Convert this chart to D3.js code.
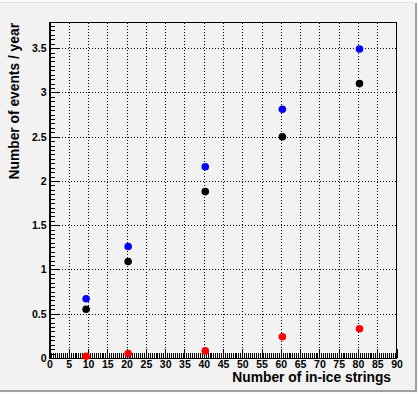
<!DOCTYPE html>
<html>
<head>
<meta charset="utf-8">
<script src="https://cdn.jsdelivr.net/npm/d3@7"></script>
<style>
  body { margin: 0; background: #ffffff; }
  svg { display: block; }
  .axis text { font-family: "Liberation Sans", Arial, sans-serif; font-weight: bold; font-size: 10.5px; fill: #000; }
  .axis path, .axis line { stroke: #000; shape-rendering: crispEdges; }
</style>
</head>
<body>
<script>
// number of in-ice strings
let strings = [9.5, 20.4, 40.4, 60.4, 80.4];
// events per year, three series
let blueVals = [0.67, 1.26, 2.16, 2.81, 3.49];
let blackVals = [0.55, 1.09, 1.88, 2.50, 3.10];
let redVals = [0.02, 0.05, 0.08, 0.24, 0.33];

let xTicks = d3.range(0, 91, 5);
let yTicks = [0, 0.5, 1, 1.5, 2, 2.5, 3, 3.5];

let width = 418;
let height = 394;

let svg = d3.select("body")
    .append("svg")
    .attr("width", width)
    .attr("height", height);

// canvas background + bevel
svg.append("rect").attr("width", width).attr("height", height).attr("fill", "#fbfbfb");
svg.append("rect").attr("x", 0).attr("y", 3).attr("width", 415).attr("height", 387).attr("fill", "#f2f2f2");
svg.append("line").attr("x1", 0).attr("x2", 415).attr("y1", 2.5).attr("y2", 2.5).attr("stroke", "#e4e4e4");
svg.append("rect").attr("x", 415).attr("y", 3).attr("width", 2).attr("height", 389).attr("fill", "#a0a0a0");
svg.append("rect").attr("x", 0).attr("y", 390).attr("width", 417).attr("height", 2).attr("fill", "#a0a0a0");

let padL = 49.5, padR = 396.5, padT = 22.5, padB = 358;

let xScale = d3.scaleLinear().domain([0, 90]).range([padL, padR]);
let yScale = d3.scaleLinear().domain([0, 3.79]).range([padB, padT]);

/* grid */
let grid = svg.append("g")
    .attr("stroke", "#000")
    .attr("stroke-dasharray", "1,2")
    .attr("shape-rendering", "crispEdges");

grid.selectAll(".gx")
    .data(xTicks.filter(d => d > 0 && d < 90))
    .enter().append("line")
    .attr("x1", d => Math.round(xScale(d)) + 0.5)
    .attr("x2", d => Math.round(xScale(d)) + 0.5)
    .attr("y1", padT)
    .attr("y2", padB);

grid.selectAll(".gy")
    .data(yTicks.filter(d => d > 0))
    .enter().append("line")
    .attr("x1", padL)
    .attr("x2", padR)
    .attr("y1", d => Math.round(yScale(d)) + 0.5)
    .attr("y2", d => Math.round(yScale(d)) + 0.5);

/* x axis, ticks inside */
let xMinor = d3.axisBottom(xScale)
    .tickValues(d3.range(0, 180.5, 1).map(d => d / 2))
    .tickSizeInner(-5).tickSizeOuter(0)
    .tickFormat("");
svg.append("g").attr("class", "axis")
    .attr("transform", "translate(0," + padB + ")")
    .call(xMinor);

let xAxis = d3.axisBottom(xScale)
    .tickValues(xTicks)
    .tickSizeInner(-9).tickSizeOuter(0)
    .tickPadding(3)
    .tickFormat(d => String(d));
svg.append("g").attr("class", "axis")
    .attr("transform", "translate(0," + padB + ")")
    .call(xAxis);

/* y axis */
let yMinor = d3.axisLeft(yScale)
    .tickValues(d3.range(0, 76, 1).map(d => d / 20))
    .tickSizeInner(-5).tickSizeOuter(0)
    .tickFormat("");
svg.append("g").attr("class", "axis")
    .attr("transform", "translate(" + padL + ",0)")
    .call(yMinor);

let yAxis = d3.axisLeft(yScale)
    .tickValues(yTicks)
    .tickSizeInner(-9).tickSizeOuter(0)
    .tickPadding(3)
    .tickFormat(d => String(d));
svg.append("g").attr("class", "axis")
    .attr("transform", "translate(" + padL + ",0)")
    .call(yAxis);

/* frame */
svg.append("rect")
    .attr("x", padL).attr("y", padT)
    .attr("width", padR - padL).attr("height", padB - padT)
    .attr("fill", "none").attr("stroke", "#000")
    .attr("shape-rendering", "crispEdges");

/* axis titles */
svg.append("text")
    .attr("x", 391).attr("y", 382)
    .attr("text-anchor", "end")
    .attr("font-family", "Liberation Sans, Arial, sans-serif")
    .attr("font-weight", "bold").attr("font-size", 13.8)
    .text("Number of in-ice strings");

svg.append("text")
    .attr("transform", "translate(19,23) rotate(-90)")
    .attr("text-anchor", "end")
    .attr("font-family", "Liberation Sans, Arial, sans-serif")
    .attr("font-weight", "bold").attr("font-size", 13.8)
    .text("Number of events / year");

/* markers */
let series = [
    { vals: blueVals, color: "#0000ff" },
    { vals: blackVals, color: "#000000" },
    { vals: redVals, color: "#ff0000" }
];

series.forEach(function (s) {
    svg.append("g").selectAll("circle")
        .data(s.vals)
        .enter().append("circle")
        .attr("cx", (d, i) => xScale(strings[i]))
        .attr("cy", d => yScale(d))
        .attr("r", 3.8)
        .attr("fill", s.color);
});
</script>
</body>
</html>
